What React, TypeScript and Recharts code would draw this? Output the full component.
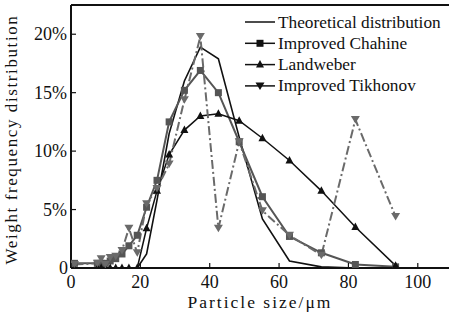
import { LineChart, Line, XAxis, YAxis, ReferenceLine, Label } from 'recharts';

// particle size grid (um)
const sizes = [1, 7.6, 8.7, 9.9, 11.3, 12.9, 14.7, 16.7, 19.1, 21.8, 24.8, 28.3, 32.7, 37.3, 42.5, 48.5, 55.2, 63, 72.2, 82, 93.6];
const theoretical = [0, 0, 0, 0, 0, 0, 0, 0, 0, 1.2, 5.8, 11.5, 16, 18.9, 17.9, 11.2, 4.2, 0.6, 0.1, 0, 0];
const chahine = [0.4, 0.4, 0.4, 0.4, 0.6, 0.8, 1.2, 1.9, 2.8, 5.2, 7.5, 12.5, 15.2, 16.9, 15.0, 10.8, 6.1, 2.7, 1.3, 0.3, 0.1];
const landweber = [0, 0, 0, 0, 0, 0, 0, 0, 0, 3.4, 6.6, 9.7, 11.8, 13.0, 13.2, 12.6, 11.1, 9.2, 6.6, 3.5, 0.2];
const tikhonov = [0.3, 0.4, 0.8, 0.3, 0.9, 1.0, 1.5, 3.4, 1.3, 5.5, 6.8, 8.9, 14.4, 19.8, 3.4, 10.8, 4.9, 2.8, 1.1, 12.7, 4.4];

const xTicks = [0, 20, 40, 60, 80, 100];
const yTicks = [0, 5, 10, 15, 20];

const data = sizes.map((s, i) => ({
  size: s,
  theoretical: theoretical[i],
  chahine: chahine[i],
  landweber: landweber[i],
  tikhonov: tikhonov[i],
}));

const FONT = '"Liberation Serif", "Times New Roman", serif';

const Square = ({ cx, cy, fill }: any) => (
  <rect x={cx - 3.5} y={cy - 3.5} width={7} height={7} fill={fill} />
);
const TriUp = ({ cx, cy, fill }: any) => (
  <path d={`M${cx},${cy - 4.5} L${cx + 4},${cy + 3} L${cx - 4},${cy + 3} Z`} fill={fill} />
);
const TriDown = ({ cx, cy, fill }: any) => (
  <path d={`M${cx - 4.5},${cy - 3.5} L${cx + 4.5},${cy - 3.5} L${cx},${cy + 4} Z`} fill={fill} />
);

const series = [
  { key: 'theoretical', name: 'Theoretical distribution', color: '#111', width: 1.6, dash: undefined, Mark: null },
  { key: 'chahine', name: 'Improved Chahine', color: '#555', width: 2, dash: undefined, Mark: Square },
  { key: 'landweber', name: 'Landweber', color: '#111', width: 1.5, dash: undefined, Mark: TriUp },
  { key: 'tikhonov', name: 'Improved Tikhonov', color: '#6a6a6a', width: 2, dash: '9 3 2 3', Mark: TriDown },
];

// legend drawn as an overlay so it doesn't shrink the plot area
function LegendBox() {
  return (
    <svg width={206} height={100} style={{ position: 'absolute', left: 243, top: 0 }}>
      {series.map((s, i) => {
        const y = 22 + i * 21.3;
        const M = s.Mark;
        return (
          <g key={s.key}>
            <line x1={2} x2={32} y1={y} y2={y} stroke="#111" strokeWidth={1.5} />
            {M && <M cx={17} cy={y} fill="#111" />}
            <text x={35} y={y + 5.5} fontFamily={FONT} fontSize={17.3} fill="#111">{s.name}</text>
          </g>
        );
      })}
    </svg>
  );
}

const YTick = ({ x, y, payload }: any) => (
  <g>
    <line x1={x} x2={x + 5} y1={y} y2={y} stroke="#111" strokeWidth={1.2} />
    <text x={payload.value === 0 ? x - 3 : x - 4} y={payload.value === 0 ? y + 6 : y + 6} textAnchor="end"
      fontFamily={FONT} fontSize={18} fill="#111">
      {payload.value === 0 ? '0' : `${payload.value}%`}
    </text>
  </g>
);

const XTick = ({ x, y, payload }: any) => (
  <g>
    <line x1={x} x2={x} y1={y} y2={y - 5} stroke="#111" strokeWidth={1.2} />
    <text x={x} y={y + 20} textAnchor="middle" fontFamily={FONT} fontSize={18} fill="#111">
      {payload.value}
    </text>
  </g>
);

const YLabel = ({ viewBox }: any) => (
  <text
    transform={`translate(${viewBox.x + 17},${viewBox.y + viewBox.height / 2 + 3}) rotate(-90)`}
    textAnchor="middle"
    fontFamily={FONT}
    fontSize={17}
    letterSpacing={1.6}
    fill="#111"
  >
    Weight frequency distribution
  </text>
);

export default function App() {
  return (
    <div style={{ position: 'absolute', left: 0, top: 0, width: 449, height: 317, background: '#fff' }}>
      <LineChart width={449} height={317} data={data} margin={{ top: 5, right: 0, left: 0, bottom: 0 }}>
        <XAxis
          dataKey="size"
          type="number"
          domain={[0, 109]}
          ticks={xTicks}
          tickSize={0}
          tickMargin={0}
          tick={<XTick />}
          height={49}
          stroke="#111"
          strokeWidth={2}
          allowDataOverflow
        >
          <Label value="Particle size/μm" position="insideBottom" offset={9}
            style={{ fontFamily: FONT, fontSize: 17.5, fill: '#111', letterSpacing: 2 }} />
        </XAxis>
        <YAxis
          type="number"
          domain={[0, 22.5]}
          ticks={yTicks}
          tickSize={0}
          tickMargin={0}
          tick={<YTick />}
          width={71}
          stroke="#111"
          strokeWidth={2}
          allowDataOverflow
        >
          <Label content={<YLabel />} />
        </YAxis>
        <ReferenceLine y={22.5} stroke="#111" strokeWidth={2} />
        {series.map((s) => {
          const M = s.Mark;
          return (
            <Line
              key={s.key}
              dataKey={s.key}
              name={s.name}
              stroke={s.color}
              strokeWidth={s.width}
              strokeDasharray={s.dash}
              dot={M ? (p: any) => <M key={`${s.key}-${p.index}`} cx={p.cx} cy={p.cy} fill={s.color} /> : false}
              activeDot={false}
              isAnimationActive={false}
            />
          );
        })}
      </LineChart>
      <LegendBox />
    </div>
  );
}
